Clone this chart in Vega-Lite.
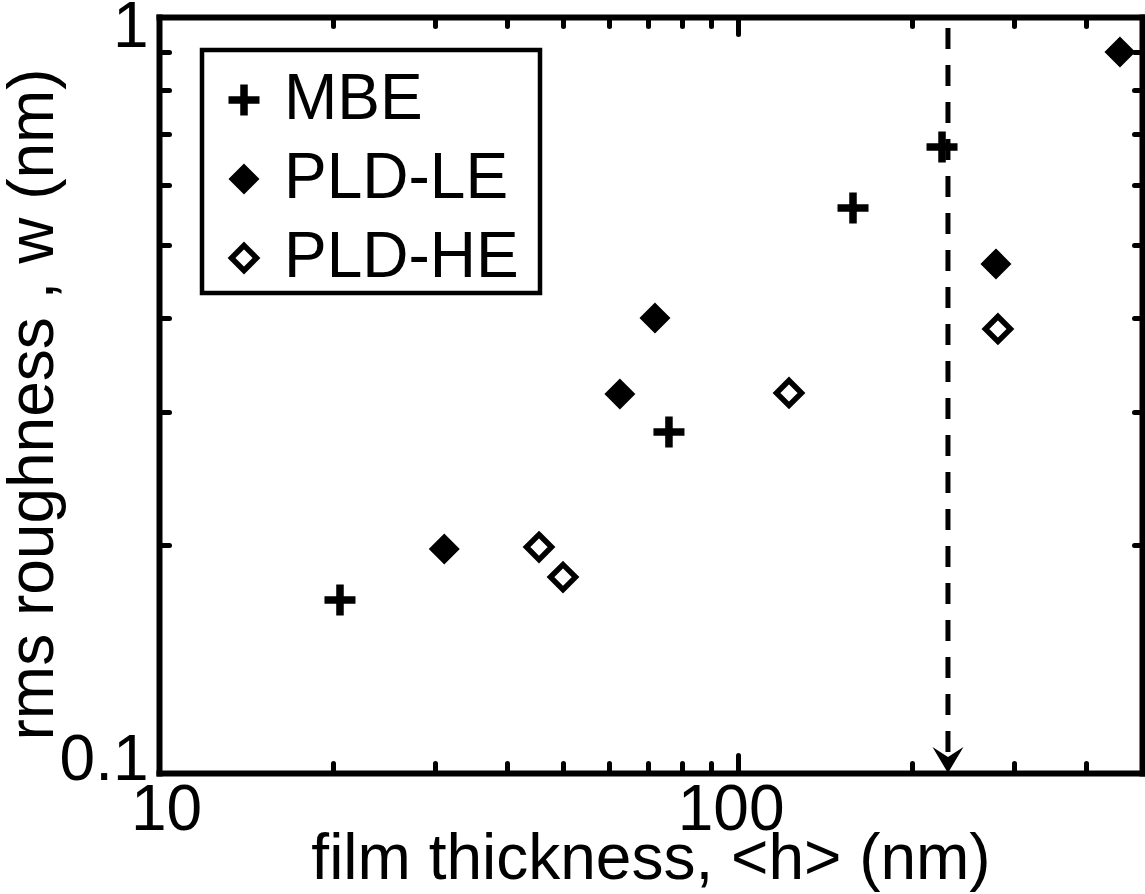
{
  "$schema": "https://vega.github.io/schema/vega-lite/v6.json",
  "width": 983,
  "height": 756,
  "autosize": {"type": "none"},
  "padding": {"left": 159, "top": 17, "right": 3, "bottom": 121},
  "background": "white",
  "config": {
    "view": {"stroke": null},
    "font": "Liberation Sans",
    "legend": {"strokeWidth": 4.5}
  },
  "datasets": {
    "pts": [
      {"series": "MBE", "h": 20.55, "w": 0.1694},
      {"series": "MBE", "h": 76.1, "w": 0.2825},
      {"series": "MBE", "h": 158.3, "w": 0.559},
      {"series": "MBE", "h": 225.6, "w": 0.673},
      {"series": "PLD-LE", "h": 31.12, "w": 0.1978},
      {"series": "PLD-LE", "h": 62.6, "w": 0.3172},
      {"series": "PLD-LE", "h": 71.98, "w": 0.3998},
      {"series": "PLD-LE", "h": 279.6, "w": 0.4714},
      {"series": "PLD-LE", "h": 458, "w": 0.899},
      {"series": "PLD-HE", "h": 45.37, "w": 0.199},
      {"series": "PLD-HE", "h": 49.92, "w": 0.1816},
      {"series": "PLD-HE", "h": 122.7, "w": 0.3182},
      {"series": "PLD-HE", "h": 281.8, "w": 0.3867}
    ],
    "vline": [{"h": 231, "w1": 0.967, "w2": 0.1056}],
    "arrow": [{"h": 231, "w": 0.1}]
  },
  "layer": [
    {
      "data": {"name": "vline"},
      "mark": {"type": "rule", "color": "black", "strokeWidth": 5, "strokeDash": [21, 16]},
      "encoding": {
        "x": {
          "field": "h", "type": "quantitative",
          "scale": {"type": "log", "domain": [10, 500], "nice": false},
          "axis": {
            "orient": "top", "values": [10, 20, 30, 40, 50, 60, 70, 80, 90, 100, 200, 300, 400, 500],
            "labels": false, "title": null, "grid": false,
            "tickSize": {"condition": {"test": "datum.value == 100", "value": -17}, "value": -9},
            "tickWidth": 5, "tickCap": "round", "tickColor": "black",
            "domainColor": "black", "domainWidth": 6, "domainCap": "square"
          }
        },
        "y": {
          "field": "w1", "type": "quantitative",
          "scale": {"type": "log", "domain": [0.1, 1], "nice": false},
          "axis": {
            "orient": "right", "values": [0.1, 0.2, 0.3, 0.4, 0.5, 0.6, 0.7, 0.8, 0.9, 1],
            "labels": false, "title": null, "grid": false,
            "tickSize": -8, "tickWidth": 5, "tickCap": "round", "tickColor": "black",
            "domainColor": "black", "domainWidth": 6, "domainCap": "square"
          }
        },
        "y2": {"field": "w2"}
      }
    },
    {
      "data": {"name": "pts"},
      "mark": {"type": "point", "filled": true, "size": 961, "strokeWidth": 5.5, "strokeJoin": "miter", "opacity": 1},
      "encoding": {
        "x": {
          "field": "h", "type": "quantitative",
          "scale": {"type": "log", "domain": [10, 500], "nice": false},
          "axis": {
            "orient": "bottom", "values": [10, 20, 30, 40, 50, 60, 70, 80, 90, 100, 200, 300, 400, 500],
            "labelExpr": "datum.value == 10 ? '10' : datum.value == 100 ? '100' : ''",
            "labelFlush": false, "labelOverlap": false, "labelBound": false,
            "labelFont": "Liberation Sans", "labelFontSize": 64, "labelColor": "black",
            "labelPadding": 23,
            "labelOffset": {"condition": {"test": "datum.value == 10", "value": 7}, "value": -7},
            "grid": false,
            "tickSize": {"condition": {"test": "datum.value == 100 || datum.value == 10", "value": -18}, "value": -10},
            "tickWidth": 5, "tickCap": "round", "tickColor": "black",
            "domainColor": "black", "domainWidth": 6, "domainCap": "square",
            "title": "film thickness, <h> (nm)",
            "titleFont": "Liberation Sans", "titleFontSize": 64, "titleFontWeight": "normal", "titleColor": "black",
            "titlePadding": -23
          }
        },
        "y": {
          "field": "w", "type": "quantitative",
          "scale": {"type": "log", "domain": [0.1, 1], "nice": false},
          "axis": {
            "orient": "left", "values": [0.1, 0.2, 0.3, 0.4, 0.5, 0.6, 0.7, 0.8, 0.9, 1],
            "labelExpr": "datum.value == 0.1 ? '0.1' : datum.value == 1 ? '1' : ''",
            "labelFlush": false, "labelOverlap": false, "labelBound": false,
            "labelFont": "Liberation Sans", "labelFontSize": 64, "labelColor": "black",
            "labelPadding": 21,
            "labelOffset": {"condition": {"test": "datum.value == 1", "value": 10}, "value": -12.6},
            "grid": false,
            "tickSize": -10, "tickWidth": 5, "tickCap": "round", "tickColor": "black",
            "domainColor": "black", "domainWidth": 6, "domainCap": "square",
            "title": "rms roughness , w (nm)\u00a0\u200b",
            "titleFont": "Liberation Sans", "titleFontSize": 64, "titleFontWeight": "normal", "titleColor": "black",
            "titlePadding": -6
          }
        },
        "shape": {
          "field": "series", "type": "nominal",
          "scale": {
            "domain": ["MBE", "PLD-LE", "PLD-HE"],
            "range": [
              "M-0.065,-0.823L0.065,-0.823L0.065,-0.065L0.823,-0.065L0.823,0.065L0.065,0.065L0.065,0.823L-0.065,0.823L-0.065,0.065L-0.823,0.065L-0.823,-0.065L-0.065,-0.065Z",
              "M0,-0.749L0.749,0L0,0.749L-0.749,0Z",
              "M0,-0.807L0.807,0L0,0.807L-0.807,0Z"
            ]
          },
          "legend": {
            "orient": "none", "legendX": 43, "legendY": 33,
            "title": "\u00a0", "titleFontSize": 10, "titlePadding": 5,
            "padding": 3, "strokeColor": "black", "fillColor": "white",
            "labelFont": "Liberation Sans", "labelFontSize": 64, "labelColor": "black", "labelLimit": 400,
            "labelOffset": 8, "labelExpr": "datum.label + '\u00a0\u200b'",
            "symbolOffset": 7, "symbolSize": 961, "symbolStrokeColor": "black", "symbolStrokeWidth": 5.5, "symbolOpacity": 1,
            "rowPadding": 15
          }
        },
        "fill": {
          "field": "series", "type": "nominal",
          "scale": {"domain": ["MBE", "PLD-LE", "PLD-HE"], "range": ["black", "black", "white"]},
          "legend": {
            "orient": "none", "legendX": 43, "legendY": 33,
            "title": "\u00a0", "titleFontSize": 10, "titlePadding": 5,
            "padding": 3, "strokeColor": "black", "fillColor": "white",
            "labelFont": "Liberation Sans", "labelFontSize": 64, "labelColor": "black", "labelLimit": 400,
            "labelOffset": 8, "labelExpr": "datum.label + '\u00a0\u200b'",
            "symbolOffset": 7, "symbolSize": 961, "symbolStrokeColor": "black", "symbolStrokeWidth": 5.5, "symbolOpacity": 1,
            "rowPadding": 15
          }
        },
        "stroke": {
          "field": "series", "type": "nominal",
          "scale": {"domain": ["MBE", "PLD-LE", "PLD-HE"], "range": ["black", "black", "black"]},
          "legend": {
            "orient": "none", "legendX": 43, "legendY": 33,
            "title": "\u00a0", "titleFontSize": 10, "titlePadding": 5,
            "padding": 3, "strokeColor": "black", "fillColor": "white",
            "labelFont": "Liberation Sans", "labelFontSize": 64, "labelColor": "black", "labelLimit": 400,
            "labelOffset": 8, "labelExpr": "datum.label + '\u00a0\u200b'",
            "symbolOffset": 7, "symbolSize": 961, "symbolStrokeColor": "black", "symbolStrokeWidth": 5.5, "symbolOpacity": 1,
            "rowPadding": 15
          }
        }
      }
    },
    {
      "data": {"name": "arrow"},
      "mark": {"type": "point", "filled": true, "size": 961, "color": "black", "strokeWidth": 0, "opacity": 1, "shape": "M0,0L-1,-1.68L0,-1.03L1,-1.68Z"},
      "encoding": {
        "x": {"field": "h", "type": "quantitative", "scale": {"type": "log", "domain": [10, 500], "nice": false}, "axis": null},
        "y": {"field": "w", "type": "quantitative", "scale": {"type": "log", "domain": [0.1, 1], "nice": false}, "axis": null}
      }
    }
  ],
  "resolve": {"axis": {"x": "independent", "y": "independent"}}
}
